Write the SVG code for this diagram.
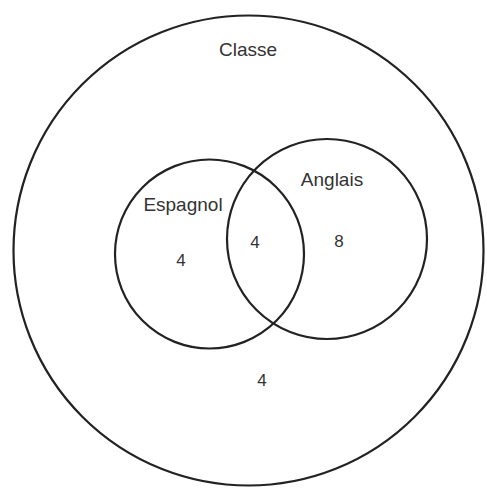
<svg xmlns="http://www.w3.org/2000/svg" width="487" height="489" viewBox="0 0 487 489">
<style>
.c{fill:none;stroke:#222;stroke-width:2.2}
.t{font-family:"Liberation Sans",Arial,sans-serif;font-size:19px;fill:#333;text-anchor:middle}
.n{font-family:"Liberation Sans",Arial,sans-serif;font-size:17px;fill:#333;text-anchor:middle}
</style>
<rect width="487" height="489" fill="#fff"/>
<g id="classe">
<circle class="c" cx="248.5" cy="250.5" r="235"/>
<text class="t" x="248" y="56">Classe</text>
<text class="n" x="262" y="386">4</text>
</g>
<g id="espagnol">
<circle class="c" cx="209.5" cy="254" r="94.5"/>
<text class="t" x="183" y="211">Espagnol</text>
<text class="n" x="181" y="266">4</text>
</g>
<g id="anglais">
<circle class="c" cx="327" cy="239" r="100"/>
<text class="t" x="332" y="186">Anglais</text>
<text class="n" x="339" y="247">8</text>
</g>
<g id="intersection">
<text class="n" x="255" y="248">4</text>
</g>
<g id="connectors"/>
</svg>
